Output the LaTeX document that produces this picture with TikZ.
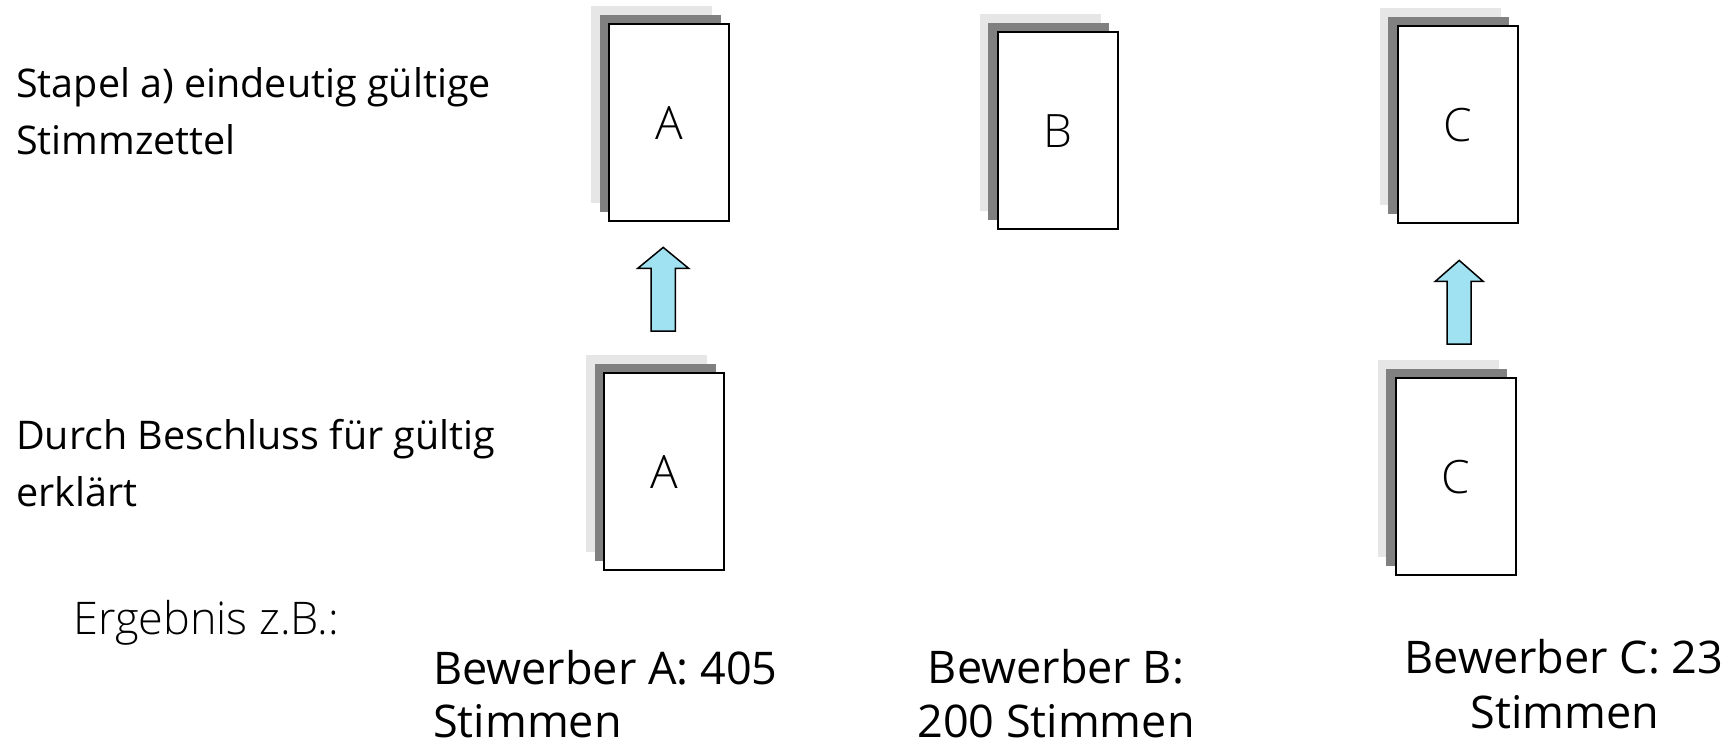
\documentclass[tikz,border=0pt]{standalone}
\usepackage{fontspec}
\setmainfont{Open Sans}
\IfFontExistsTF{Open Sans Light}
  {\newfontfamily\lightfont{Open Sans Light}}
  {\newfontfamily\lightfont{Open Sans}}
\usetikzlibrary{calc}

\definecolor{sheetlight}{RGB}{230,230,230}
\definecolor{sheetdark}{RGB}{128,128,128}
\definecolor{arrowfill}{RGB}{160,226,242}

\tikzset{
  sheet/.style={draw=black, line width=2.4pt, fill=white, anchor=north west,
    minimum width=120pt, minimum height=197pt, inner sep=0pt,
    font=\lightfont\fontsize{46}{50}\selectfont},
  label/.style={inner sep=0pt, font=\fontsize{39.5}{47}\selectfont},
  result/.style={inner sep=0pt, text depth=0pt, font=\fontsize{45}{54}\selectfont},
  resultlight/.style={inner sep=0pt, font=\lightfont\fontsize{45}{54}\selectfont},
  blockarrow/.style={draw=black, line width=1.5pt, fill=arrowfill, line join=miter},
}

% a stack of three ballot sheets: light and dark backing sheets, white sheet in front
\newcommand\ballotstack[4]{%
  \fill[sheetlight] (#2-16.6,#3-16.6) rectangle ++(121,197);
  \fill[sheetdark] (#2-8.3,#3-8.3) rectangle ++(121,197);
  \node[sheet] (#1) at (#2,#3) {#4};
}

% upward block arrow from a base point to a tip point
\newcommand\blockup[4]{%
  \draw[blockarrow] let \p1=#1, \p2=#2 in
    (\x1-#3pt,\y1) -- (\x1-#3pt,\y2-21pt) -- (\x1-#4pt,\y2-21pt) -- (\x1,\y2)
    -- (\x1+#4pt,\y2-21pt) -- (\x1+#3pt,\y2-21pt) -- (\x1+#3pt,\y1) -- cycle;
}

\begin{document}
\begin{tikzpicture}[x=1pt,y=-1pt]
\useasboundingbox (0,0) rectangle (1729,746);

% row labels
\node[label, anchor=base west] (rowa1) at (16,98) {Stapel a) eindeutig gültige};
\node[label, anchor=base west] (rowa2) at (16,155) {Stimmzettel};
\node[label, anchor=base west] (rowb1) at (16,449) {Durch Beschluss für gültig};
\node[label, anchor=base west] (rowb2) at (16,506) {erklärt};

% ballot stacks
\ballotstack{Atop}{608}{23}{A}
\ballotstack{Btop}{996.5}{31}{B}
\ballotstack{Ctop}{1396.5}{25}{C}
\ballotstack{Abot}{603}{372}{A}
\ballotstack{Cbot}{1394.5}{377}{C}

% moving the accepted ballots onto the valid stacks
\blockup{($(Abot.north)+(-1,-41)$)}{($(Atop.south)+(0,25)$)}{12.2}{25.5}
\blockup{($(Cbot.north)+(3.5,-33)$)}{($(Ctop.south)+(0,36)$)}{12}{24}

% result
\node[resultlight, anchor=base west] (res) at (73,634) {Ergebnis z.B.:};
\node[result, anchor=base west] (resA1) at (433,684) {Bewerber A: 405};
\node[result, anchor=base west] (resA2) at (433,737) {Stimmen};
\node[result, anchor=base] (resB1) at (1056,683) {Bewerber B:};
\node[result, anchor=base] (resB2) at (1056,737) {200 Stimmen};
\node[result, anchor=base] (resC1) at (1564,673) {Bewerber C: 23};
\node[result, anchor=base] (resC2) at (1565,728) {Stimmen};
\end{tikzpicture}
\end{document}
